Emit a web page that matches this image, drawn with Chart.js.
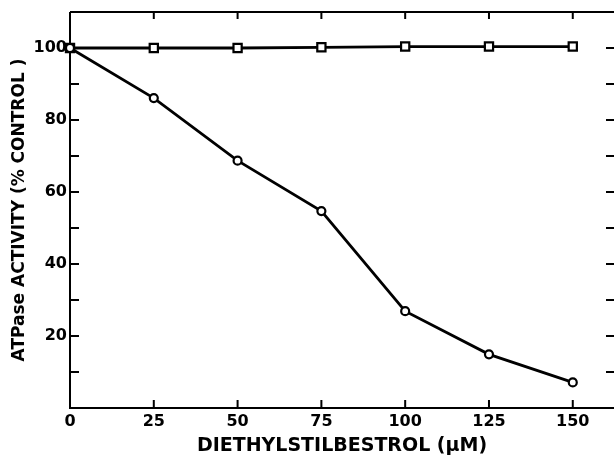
<!DOCTYPE html>
<html>
<head>
<meta charset="utf-8">
<script src="https://cdn.jsdelivr.net/npm/chart.js@4.4.0/dist/chart.umd.min.js"></script>
<style>
  html, body { margin: 0; padding: 0; background: #fff; }
  #wrap { width: 614px; height: 457px; }
</style>
</head>
<body>
<div id="wrap"><canvas id="desChart"></canvas></div>
<script>
// Data
const concentrations = [0, 25, 50, 75, 100, 125, 150];
const squareActivity = [100, 100, 100, 100.2, 100.4, 100.4, 100.4];
const circleActivity = [100, 86.1, 68.7, 54.7, 26.9, 14.9, 7.1];
const xTickValues = [0, 25, 50, 75, 100, 125, 150];
const yTickLabels = [20, 40, 60, 80, 100];
const yMinorTicks = [10, 20, 30, 40, 50, 60, 70, 80, 90, 100];

// Frame and inward tick marks, like the printed figure
const frameTicks = {
    id: 'frameTicks',
    beforeDatasetsDraw(chart) {
        const { ctx, chartArea: a, scales: { x, y } } = chart;
        const len = 8;
        ctx.save();
        ctx.strokeStyle = '#000';
        ctx.lineWidth = 2;
        ctx.beginPath();
        ctx.moveTo(a.left, a.top);
        ctx.lineTo(a.right, a.top);
        ctx.moveTo(a.left, a.top);
        ctx.lineTo(a.left, a.bottom);
        ctx.lineTo(a.right, a.bottom);
        xTickValues.forEach(v => {
            if (v === 0) return;
            const px = x.getPixelForValue(v);
            ctx.moveTo(px, a.bottom);
            ctx.lineTo(px, a.bottom - len);
            ctx.moveTo(px, a.top);
            ctx.lineTo(px, a.top + len - 1);
        });
        yMinorTicks.forEach(v => {
            const py = y.getPixelForValue(v);
            ctx.moveTo(a.left, py);
            ctx.lineTo(a.left + len + 1, py);
            ctx.moveTo(a.right, py);
            ctx.lineTo(a.right - len, py);
        });
        ctx.stroke();
        ctx.restore();
    }
};

const ctx = document.getElementById('desChart').getContext('2d');
const chart = new Chart(ctx, {
    type: 'line',
    data: {
        datasets: [
            {
                label: 'Circles',
                data: concentrations.map((c, i) => ({ x: c, y: circleActivity[i] })),
                borderColor: '#000',
                borderWidth: 2.8,
                pointStyle: 'circle',
                pointRadius: 4,
                pointBorderWidth: 2.2,
                pointBackgroundColor: '#fff',
                pointBorderColor: '#000',
                tension: 0,
                clip: false
            },
            {
                label: 'Squares',
                data: concentrations.map((c, i) => ({ x: c, y: squareActivity[i] })),
                borderColor: '#000',
                borderWidth: 2.8,
                pointStyle: 'rect',
                pointRadius: 5.8,
                pointBorderWidth: 2.2,
                pointBackgroundColor: '#fff',
                pointBorderColor: '#000',
                tension: 0,
                clip: false
            }
        ]
    },
    options: {
        responsive: true,
        maintainAspectRatio: false,
        animation: false,
        layout: {
            autoPadding: false,
            padding: { top: 12, right: 0, bottom: 0, left: 0 }
        },
        plugins: {
            legend: { display: false },
            tooltip: { enabled: false }
        },
        scales: {
            x: {
                type: 'linear',
                min: 0,
                max: 162.3,
                grid: { display: false, drawTicks: false },
                border: { display: false },
                ticks: {
                    stepSize: 25,
                    includeBounds: false,
                    autoSkip: false,
                    maxRotation: 0,
                    padding: 4,
                    color: '#000',
                    font: { family: 'DejaVu Sans', size: 16, weight: 'bold' }
                },
                title: {
                    display: true,
                    text: 'DIETHYLSTILBESTROL (\u03bcM)',
                    color: '#000',
                    font: { family: 'DejaVu Sans', size: 19, weight: 'bold' },
                    padding: { top: 0, bottom: 0 }
                },
                afterFit(scale) {
                    scale.height = 49;
                    scale.paddingLeft = 0;
                    scale.paddingRight = 0;
                }
            },
            y: {
                min: 0,
                max: 110,
                grid: { display: false, drawTicks: false },
                border: { display: false },
                ticks: {
                    stepSize: 20,
                    includeBounds: false,
                    padding: 3,
                    color: '#000',
                    font: { family: 'DejaVu Sans', size: 16, weight: 'bold' },
                    callback: v => yTickLabels.includes(v) ? v : ''
                },
                title: {
                    display: true,
                    text: 'ATPase ACTIVITY (% CONTROL )',
                    color: '#000',
                    font: { family: 'DejaVu Sans', size: 17, weight: 'bold' },
                    padding: { top: 9, bottom: 0 }
                },
                afterFit(scale) {
                    scale.width = 70;
                    scale.paddingTop = 0;
                    scale.paddingBottom = 0;
                }
            }
        }
    },
    plugins: [frameTicks]
});
</script>
</body>
</html>
